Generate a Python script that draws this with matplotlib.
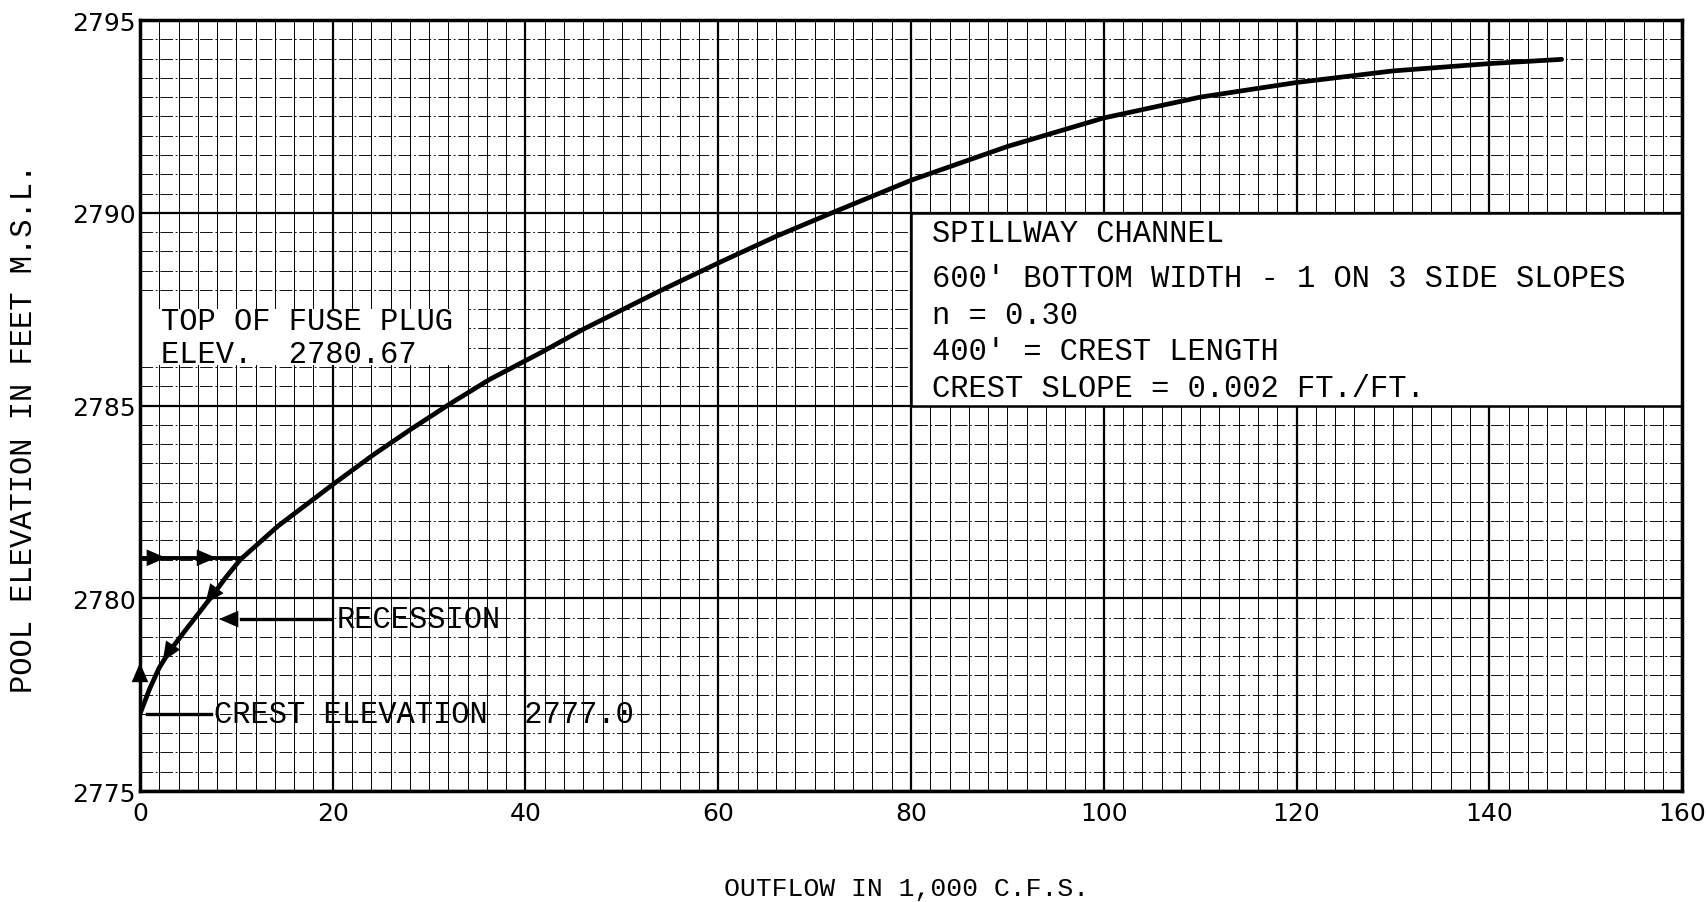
import numpy as np
import matplotlib
matplotlib.use('Agg')
import matplotlib.pyplot as plt
from matplotlib.patches import Rectangle
from matplotlib.ticker import MultipleLocator

# rating curve (outflow in 1,000 cfs vs pool elevation)
outflow = [0, 1, 2, 3, 4.5, 7.6, 9.0, 10.4, 14.35, 20.06, 24.2, 28.2, 32.2,
           36.3, 41.5, 46, 54, 60.2, 66.1, 72.1, 80.07, 90, 100, 110, 120,
           130, 140, 147.5]
elev = [2777.0, 2777.65, 2778.2, 2778.6, 2779.1, 2780.1, 2780.57, 2781.0,
        2781.88, 2782.96, 2783.72, 2784.4, 2785.05, 2785.68, 2786.36,
        2786.98, 2787.98, 2788.72, 2789.4, 2790.03, 2790.85, 2791.72,
        2792.46, 2793.0, 2793.38, 2793.68, 2793.87, 2793.98]

# rise at zero outflow up to the fuse plug, then across to the curve
rise_x = [0, 0, 10.3]
rise_y = [2777.0, 2781.05, 2781.05]

xticks = [0, 20, 40, 60, 80, 100, 120, 140, 160]
yticks = [2775, 2780, 2785, 2790, 2795]

spillway_notes = ["SPILLWAY CHANNEL",
                  "600' BOTTOM WIDTH - 1 ON 3 SIDE SLOPES",
                  "n = 0.30",
                  "400' = CREST LENGTH",
                  "CREST SLOPE = 0.002 FT./FT."]
spillway_y = [2789.47, 2788.3, 2787.35, 2786.41, 2785.45]

mono = 'Liberation Mono'

fig = plt.figure(figsize=(17.07, 9.03), dpi=100)
ax = fig.add_axes([0.082, 0.1229, 0.9034, 0.8538])

ax.set_xlim(0, 160)
ax.set_ylim(2775, 2795)
ax.xaxis.set_minor_locator(MultipleLocator(2))
ax.yaxis.set_minor_locator(MultipleLocator(0.5))
ax.set_xticks(xticks)
ax.set_yticks(yticks)
ax.set_xticklabels([str(t) for t in xticks], fontsize=18, family='DejaVu Sans')
ax.set_yticklabels([str(t) for t in yticks], fontsize=18, family='DejaVu Sans')
ax.tick_params(which='both', length=0)
ax.tick_params(axis='x', pad=7)
ax.tick_params(axis='y', pad=3)

ax.set_axisbelow(True)
ax.grid(which='major', color='black', lw=1.6)
ax.grid(which='minor', axis='x', color='black', lw=0.7)
ax.grid(which='minor', axis='y', color='black', lw=0.65, ls=(0, (14, 3, 2, 3)))
for s in ax.spines.values():
    s.set_linewidth(2.5)

# white label panels
ax.add_patch(Rectangle((0.2, 2786.05), 33.8, 1.45, facecolor='white',
                       edgecolor='none', zorder=1))
ax.add_patch(Rectangle((80, 2785), 80, 5, facecolor='white',
                       edgecolor='black', lw=1.8, zorder=1))

ax.plot(outflow, elev, color='black', lw=3.4, zorder=3,
        solid_capstyle='round', solid_joinstyle='round')
ax.plot(rise_x, rise_y, color='black', lw=2.8, zorder=3)

head = '-|>,head_length=0.7,head_width=0.3'
arrow = dict(arrowstyle=head, color='black', lw=0, mutation_scale=20)
# up along zero outflow
ax.annotate('', xy=(0, 2778.4), xytext=(0, 2777.4), arrowprops=arrow, zorder=4)
# right along the fuse-plug line
for xa in [3.0, 8.2]:
    ax.annotate('', xy=(xa, 2781.05), xytext=(xa - 2.0, 2781.05),
                arrowprops=arrow, zorder=4)
# down the curve (recession)
for xa, ya, xb, yb in [(2.2, 2778.3, 3.6, 2778.85), (6.6, 2779.8, 8.4, 2780.4)]:
    ax.annotate('', xy=(xa, ya), xytext=(xb, yb), arrowprops=arrow, zorder=4)

# RECESSION pointer
ax.plot([10.5, 19.8], [2779.46, 2779.46], color='black', lw=2.4, zorder=3)
ax.annotate('', xy=(7.9, 2779.46), xytext=(11.5, 2779.46),
            arrowprops=arrow, zorder=4)
ax.text(20.4, 2779.46, 'RECESSION', family=mono, fontsize=22,
        va='center', ha='left', zorder=4)

# crest elevation
ax.plot([0.7, 7.4], [2777.0, 2777.0], color='black', lw=2.4, zorder=3)
ax.text(7.7, 2777.0, 'CREST ELEVATION  2777.0', family=mono, fontsize=22,
        va='center', ha='left', zorder=4)

ax.text(2.2, 2787.19, 'TOP OF FUSE PLUG', family=mono, fontsize=22,
        va='center', ha='left', zorder=4)
ax.text(2.2, 2786.34, 'ELEV.  2780.67', family=mono, fontsize=22,
        va='center', ha='left', zorder=4)

for line, yy in zip(spillway_notes, spillway_y):
    ax.text(82.2, yy, line, family=mono, fontsize=22, va='center',
            ha='left', zorder=4)

fig.text(0.531, 0.0155, 'OUTFLOW IN 1,000 C.F.S.', family=mono, fontsize=19,
         ha='center', va='center')
fig.text(0.014, 0.526, 'POOL ELEVATION IN FEET M.S.L.', family=mono,
         fontsize=22, rotation=90, ha='center', va='center')

fig.savefig('out.png', dpi=100)
